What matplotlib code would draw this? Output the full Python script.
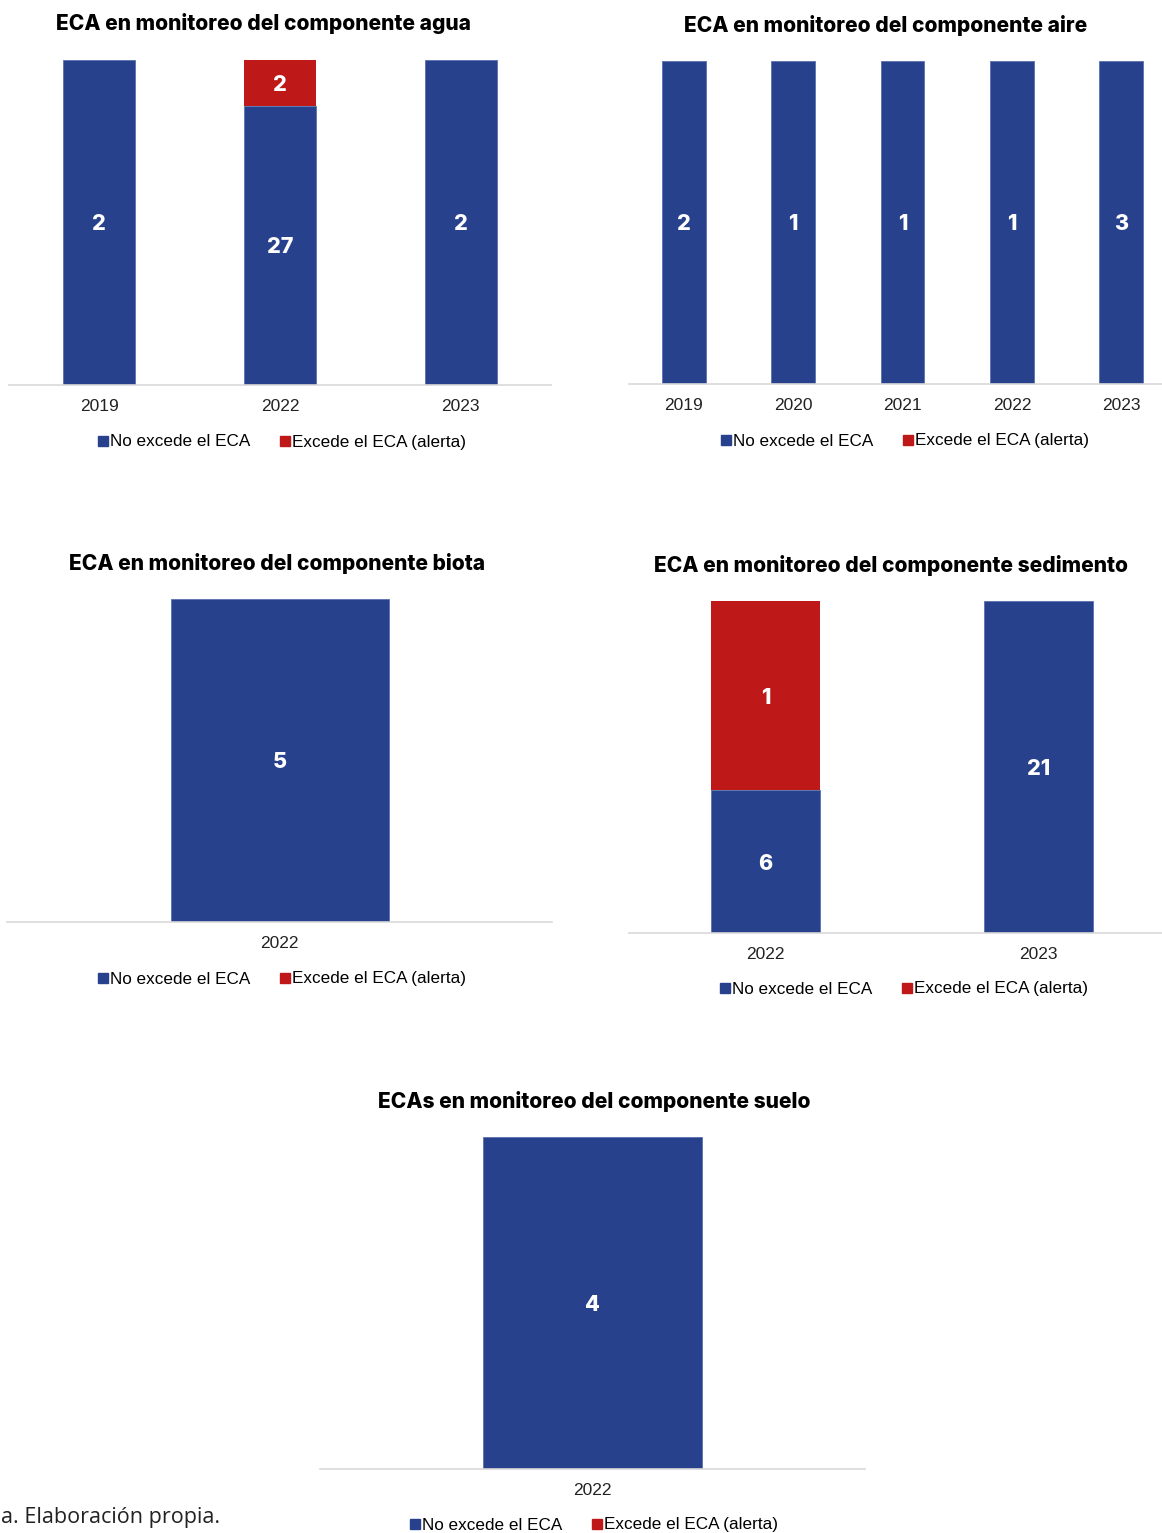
import matplotlib
matplotlib.use("Agg")
import matplotlib.pyplot as plt
from matplotlib.lines import Line2D

# colores
AZUL = "#27418C"
ROJO = "#BE1818"
GRIS = "#D9D9D9"

# ---- datos (altura = % del total, etiqueta = n° de ECA) ----
agua_anios = ["2019", "2022", "2023"]
agua_no_pct = [100, 86, 100]
agua_si_pct = [0, 14, 0]
agua_no_n = [2, 27, 2]
agua_si_n = [0, 2, 0]

aire_anios = ["2019", "2020", "2021", "2022", "2023"]
aire_no_pct = [100, 100, 100, 100, 100]
aire_si_pct = [0, 0, 0, 0, 0]
aire_no_n = [2, 1, 1, 1, 3]
aire_si_n = [0, 0, 0, 0, 0]

biota_anios = ["2022"]
biota_no_pct = [100]
biota_si_pct = [0]
biota_no_n = [5]
biota_si_n = [0]

sed_anios = ["2022", "2023"]
sed_no_pct = [43, 100]
sed_si_pct = [57, 0]
sed_no_n = [6, 21]
sed_si_n = [1, 0]

suelo_anios = ["2022"]
suelo_no_pct = [100]
suelo_si_pct = [0]
suelo_no_n = [4]
suelo_si_n = [0]

legend_labels = ["No excede el ECA", "Excede el ECA (alerta)"]

W, H = 1162, 1533
fig = plt.figure(figsize=(W / 100, H / 100), dpi=100)


def px_axes(x0, x1, ytop, ybase):
    return fig.add_axes([x0 / W, 1 - ybase / H, (x1 - x0) / W, (ybase - ytop) / H])


def panel(ax, anios, no_pct, si_pct, no_n, si_n, titulo, title_xy, leg_xy):
    x = range(len(anios))
    ax.bar(x, no_pct, width=0.4, color=AZUL, edgecolor="#5A70B0", linewidth=0.6, zorder=2)
    ax.bar(x, si_pct, width=0.4, bottom=no_pct, color=ROJO, linewidth=0, zorder=2)
    for i in x:
        if no_pct[i] > 0:
            ax.text(i, no_pct[i] / 2, str(no_n[i]), ha="center", va="center_baseline",
                    color="white", fontsize=15.5, fontweight="heavy", family="Inter")
        if si_pct[i] > 0:
            ax.text(i, no_pct[i] + si_pct[i] / 2, str(si_n[i]), ha="center", va="center_baseline",
                    color="white", fontsize=15.5, fontweight="heavy", family="Inter")
    ax.set_xlim(-0.5, len(anios) - 0.5)
    ax.set_ylim(0, 100)
    ax.set_xticks(list(x))
    ax.set_xticklabels(anios, family="Liberation Sans", fontsize=12.5, color="#222222")
    ax.tick_params(axis="x", length=0, pad=10)
    ax.set_yticks([])
    for s in ["top", "right", "left"]:
        ax.spines[s].set_visible(False)
    ax.spines["bottom"].set_color(GRIS)
    ax.spines["bottom"].set_linewidth(1.2)
    fig.text(title_xy[0] / W, 1 - title_xy[1] / H, titulo, ha="center", va="center",
             fontsize=15.1, fontweight="heavy", family="Inter", color="black")
    handles = [Line2D([], [], marker="s", linestyle="none", markersize=6.5, color=AZUL),
               Line2D([], [], marker="s", linestyle="none", markersize=6.5, color=ROJO)]
    fig.legend(handles, legend_labels, loc="center", ncol=2,
               bbox_to_anchor=(leg_xy[0] / W, 1 - leg_xy[1] / H),
               frameon=False, handlelength=0.6, handletextpad=0.15, columnspacing=1.7,
               prop={"family": "Liberation Sans", "size": 12.3})


ax1 = px_axes(9, 551, 60, 385)
panel(ax1, agua_anios, agua_no_pct, agua_si_pct, agua_no_n, agua_si_n,
      "ECA en monitoreo del componente agua", (263, 24), (282, 442))

ax2 = px_axes(629, 1176, 61, 384)
panel(ax2, aire_anios, aire_no_pct, aire_si_pct, aire_no_n, aire_si_n,
      "ECA en monitoreo del componente aire", (886, 26), (905, 441))

ax3 = px_axes(7, 552, 599, 922)
panel(ax3, biota_anios, biota_no_pct, biota_si_pct, biota_no_n, biota_si_n,
      "ECA en monitoreo del componente biota", (277, 564), (282, 979))

ax4 = px_axes(629, 1175, 601, 933)
panel(ax4, sed_anios, sed_no_pct, sed_si_pct, sed_no_n, sed_si_n,
      "ECA en monitoreo del componente sedimento", (891, 566), (904, 989))

ax5 = px_axes(320, 865, 1137, 1469)
panel(ax5, suelo_anios, suelo_no_pct, suelo_si_pct, suelo_no_n, suelo_si_n,
      "ECAs en monitoreo del componente suelo", (594, 1102), (594, 1525))

fig.text(1 / W, 1 - 1517 / H, "a. Elaboración propia.", ha="left", va="center",
         fontsize=15.5, family="Open Sans", color="#222222")

fig.savefig("out.png", dpi=100)
